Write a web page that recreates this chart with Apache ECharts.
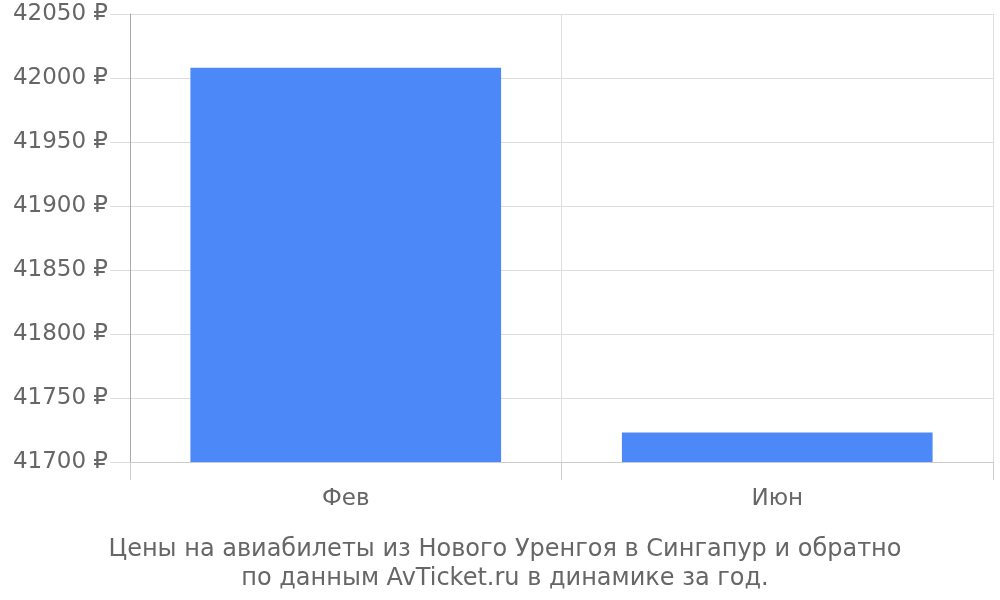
<!DOCTYPE html>
<html>
<head>
    <meta charset="utf-8">
    <title>ECharts</title>
    <script src="https://cdn.jsdelivr.net/npm/echarts@6/dist/echarts.min.js"></script>
</head>
<body style="margin:0">
    <div id="main" style="width: 1000px;height:600px;"></div>
    <script type="text/javascript">
        // данные графика
        var months = ['Фев', 'Июн'];
        var prices = [42008, 41723];
        var yMin = 41700, yMax = 42050, yStep = 50;

        var myChart = echarts.init(document.getElementById('main'));
        var font = 'DejaVu Sans';

        var option = {
            title: {
                text: 'Цены на авиабилеты из Нового Уренгоя в Сингапур и обратно\nпо данным AvTicket.ru в динамике за год.',
                left: 500,
                top: 530,
                textAlign: 'center',
                textStyle: {
                    fontFamily: font,
                    fontSize: 24,
                    fontWeight: 'normal',
                    color: '#666',
                    lineHeight: 29
                }
            },
            grid: {
                left: 130,
                right: 7,
                top: 14,
                bottom: 138
            },
            xAxis: {
                type: 'category',
                data: months,
                axisLine: { lineStyle: { color: '#ccc' } },
                axisTick: { show: true, length: 18, lineStyle: { color: '#ccc' } },
                splitLine: { show: true, lineStyle: { color: '#dedede' } },
                axisLabel: {
                    margin: 26,
                    fontFamily: font,
                    fontSize: 23,
                    color: '#666'
                }
            },
            yAxis: {
                type: 'value',
                min: yMin,
                max: yMax,
                interval: yStep,
                axisLine: { show: true, lineStyle: { color: '#aaa' } },
                axisTick: { show: true, length: 20, lineStyle: { color: '#dedede' } },
                splitLine: { lineStyle: { color: '#dedede' } },
                axisLabel: {
                    margin: 22,
                    formatter: function (v) { return v + ' ₽'; },
                    fontFamily: font,
                    fontSize: 23,
                    color: '#666'
                }
            },
            series: [{
                type: 'bar',
                data: prices,
                barCategoryGap: '28%',
                itemStyle: { color: '#4d88f9' }
            }]
        };

        myChart.setOption(option);
    </script>
</body>
</html>
